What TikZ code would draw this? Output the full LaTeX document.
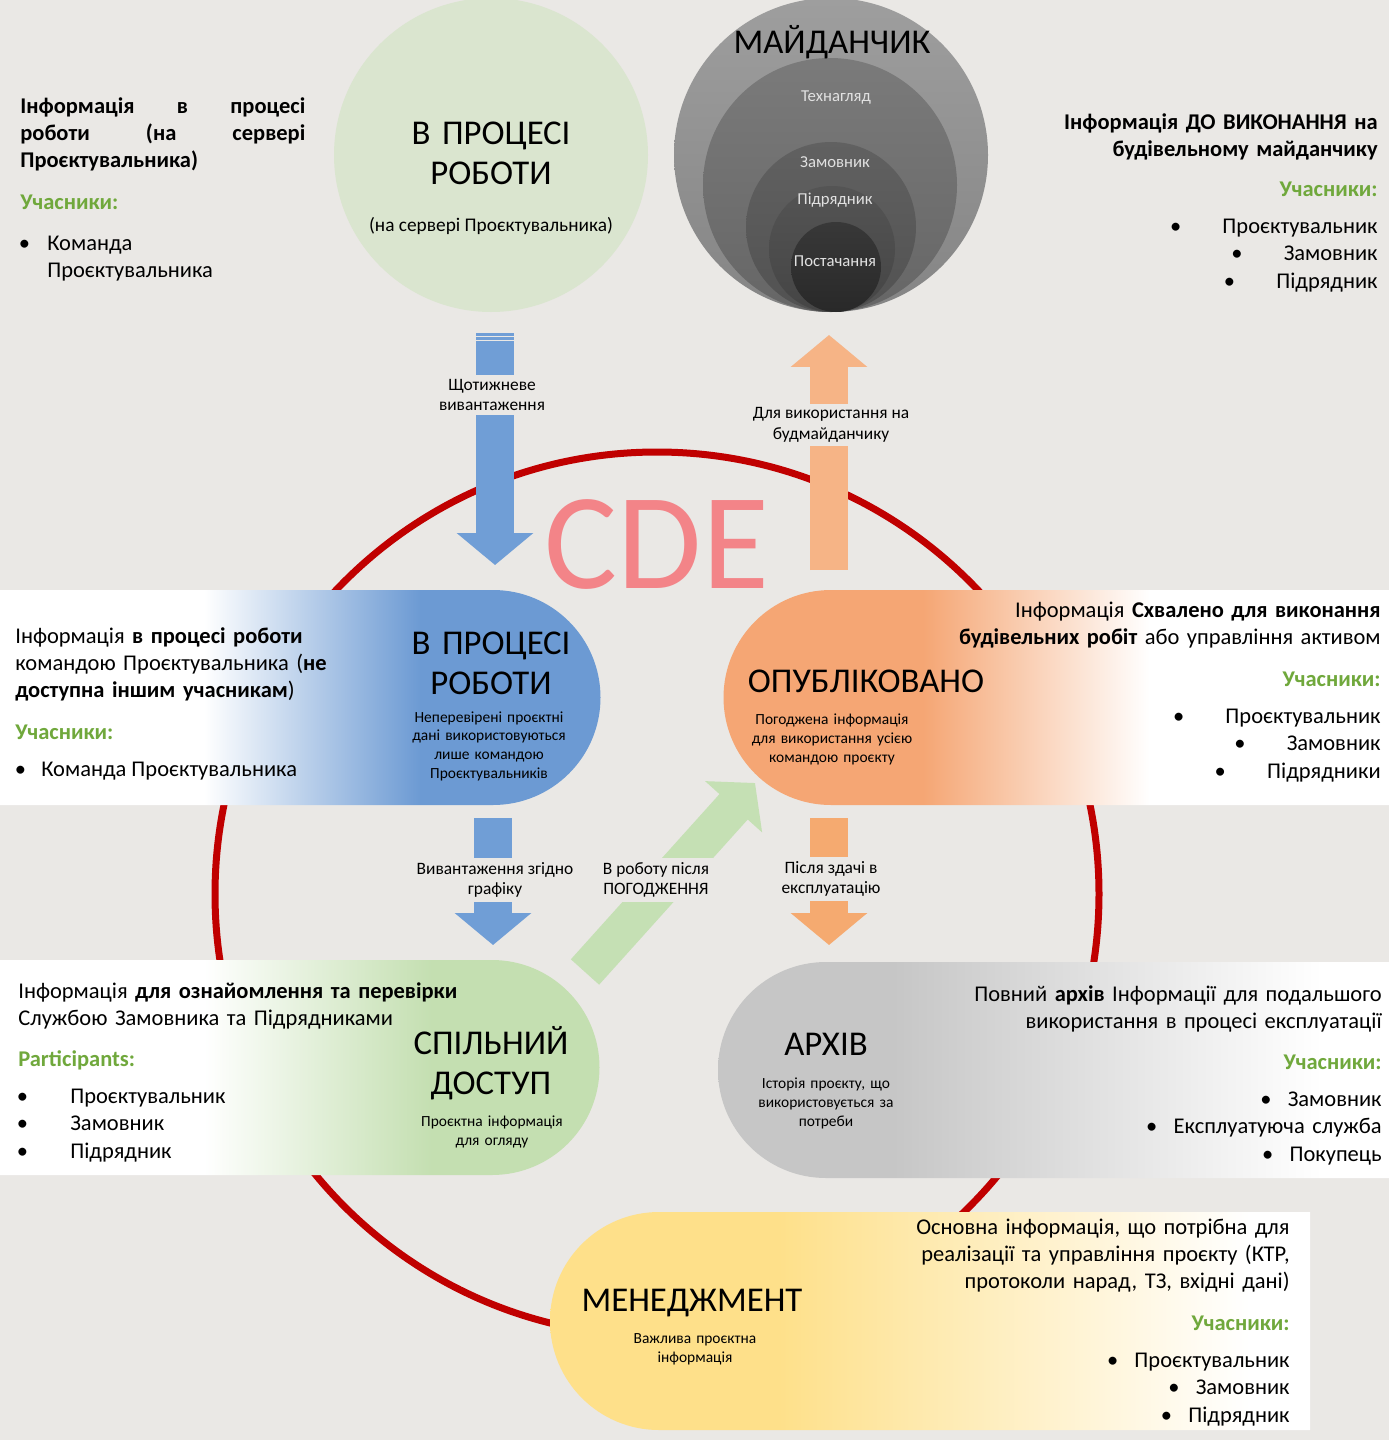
\documentclass[tikz,border=0pt]{standalone}
\usepackage{fontspec}
\setmainfont{Carlito}
\usetikzlibrary{arrows.meta}

\definecolor{bg}{RGB}{234,232,229}
\definecolor{wipblue}{RGB}{108,154,211}
\definecolor{pubor}{RGB}{245,166,116}
\definecolor{shgreen}{RGB}{196,223,177}
\definecolor{argrey}{RGB}{198,198,198}
\definecolor{mgyellow}{RGB}{254,224,138}
\definecolor{cdered}{RGB}{192,0,0}
\definecolor{cdepink}{RGB}{243,132,136}
\definecolor{partgreen}{RGB}{112,168,60}
\definecolor{sage}{RGB}{218,229,207}
\definecolor{arblue}{RGB}{112,158,214}
\definecolor{arorange}{RGB}{246,180,134}
\definecolor{arorangeb}{RGB}{245,170,112}
\definecolor{argreen}{RGB}{197,224,180}
\definecolor{sitetext}{RGB}{225,225,225}

\pgfdeclarehorizontalshading{wipshade}{100bp}{color(0bp)=(white); color(42bp)=(white); color(60bp)=(wipblue); color(100bp)=(wipblue)}
\pgfdeclarehorizontalshading{pubshade}{100bp}{color(0bp)=(pubor); color(40bp)=(pubor); color(57bp)=(white); color(100bp)=(white)}
\pgfdeclarehorizontalshading{shrshade}{100bp}{color(0bp)=(white); color(42bp)=(white); color(61bp)=(shgreen); color(100bp)=(shgreen)}
\pgfdeclarehorizontalshading{arcshade}{100bp}{color(0bp)=(argrey); color(38bp)=(argrey); color(70bp)=(white); color(100bp)=(white)}
\pgfdeclarehorizontalshading{mgmshade}{100bp}{color(0bp)=(mgyellow); color(40bp)=(mgyellow); color(71bp)=(white); color(100bp)=(white)}

\newcommand{\itembul}[2]{\makebox[#1][l]{\textbullet}#2}

\tikzset{
  bodytext/.style={font=\fontsize{12.8}{15.6}\selectfont, inner sep=0pt},
  infobold/.style={font=\fontsize{12.8}{15.6}\selectfont\bfseries, inner sep=0pt},
  parttext/.style={font=\fontsize{12.8}{15.6}\selectfont\bfseries, text=partgreen, inner sep=0pt},
  listtext/.style={font=\fontsize{12.8}{15.7}\selectfont, inner sep=0pt, text width=6cm},
  pilltitle/.style={font=\fontsize{19.8}{23.2}\selectfont, align=center, text width=6cm, inner sep=0pt},
  smalltext/.style={font=\fontsize{8.8}{10.8}\selectfont, align=center, text width=5cm, inner sep=0pt},
  sitelabel/.style={font=\fontsize{9.5}{11}\selectfont, text=sitetext, inner sep=0pt},
  arrowlabel/.style={font=\fontsize{9.9}{11.6}\selectfont, align=center, fill=bg, inner xsep=2pt, inner ysep=2.4pt},
  blockarrow/.style={line width=0.76cm, -{Triangle[width=1.5cm,length=0.64cm]}},
}

\begin{document}
\begin{tikzpicture}[x=0.02cm,y=-0.02cm]
  \fill[bg] (0,0) rectangle (1389,1440);
  \useasboundingbox (0,0) rectangle (1389,1440);

  % top: work in progress circle
  \fill[sage] (491,155) circle[radius=157];
  \node[pilltitle, anchor=base] (T) at (491,144) {В ПРОЦЕСІ\\РОБОТИ};
  \node[font=\fontsize{11}{13}\selectfont, inner sep=0pt, anchor=base] (Tsub) at (491,231) {(на сервері Проєктувальника)};

  % top: site circles
  \shade[top color=black!38, bottom color=black!48] (831,155) circle[radius=157];
  \shade[top color=black!52, bottom color=black!60] (830,185) circle[radius=127];
  \shade[top color=black!62, bottom color=black!68] (831,227) circle[radius=85];
  \shade[top color=black!67, bottom color=black!73] (832,249) circle[radius=63];
  \shade[top color=black!78, bottom color=black!84] (836,267) circle[radius=45];
  \node[pilltitle, anchor=base] (S) at (832,53) {МАЙДАНЧИК};
  \node[sitelabel, anchor=base] (S1) at (836,101) {Технагляд};
  \node[sitelabel, anchor=base] (S2) at (835,167) {Замовник};
  \node[sitelabel, anchor=base] (S3) at (835,204) {Підрядник};
  \node[sitelabel, anchor=base] (S4) at (835,266) {Постачання};

  % top texts
  \node[infobold, text width=5.7cm, align=left, anchor=base west] (tlinfo) at (20,113)
    {Інформація\hfill в\hfill процесі\\роботи\hfill (на\hfill сервері\\Проєктувальника)};
  \node[parttext, anchor=base west] (tlpart) at (20,209) {Учасники:};
  \node[listtext, align=left, anchor=base west] (tllist) at (18.5,250)
    {\itembul{0.57cm}{Команда}\\\hspace*{0.57cm}Проєктувальника};
  \node[infobold, text width=7cm, align=right, anchor=base east] (trinfo) at (1378,129)
    {Інформація ДО ВИКОНАННЯ на\\будівельному майданчику};
  \node[parttext, anchor=base east] (trpart) at (1378,196) {Учасники:};
  \node[listtext, align=right, anchor=base east] (trlist) at (1378,233)
    {\itembul{1.05cm}{Проєктувальник}\\\itembul{1.05cm}{Замовник}\\\itembul{1.05cm}{Підрядник}};

  % CDE ring
  \draw[cdered, line width=0.14cm] (657,894) circle[radius=442];
  \node[font=\fontsize{78}{80}\selectfont, text=cdepink, inner sep=0pt, anchor=base] (cde) at (657,588) {CDE};

  % work in progress
  \shade[shading=wipshade] (0,590) -- (493,590) arc[start angle=-90,end angle=90,radius=107.5] -- (0,805) -- cycle;
  \node[bodytext, text width=7.5cm, align=left, anchor=base west] (Ainfo) at (15,643)
    {Інформація \textbf{в процесі роботи}\\командою Проєктувальника (\textbf{не}\\\textbf{доступна іншим учасникам})};
  \node[parttext, anchor=base west] (Apart) at (15,739) {Учасники:};
  \node[bodytext, anchor=base west] (Alist) at (14.5,776) {\itembul{0.53cm}{Команда Проєктувальника}};
  \node[pilltitle, anchor=base] (A) at (491,654) {В ПРОЦЕСІ\\РОБОТИ};
  \node[smalltext, anchor=base] (Asub) at (489,722)
    {Неперевірені проєктні\\дані використовуються\\лише командою\\Проєктувальників};

  % published
  \shade[shading=pubshade] (1389,590) -- (831,590) arc[start angle=-90,end angle=-270,radius=107.5] -- (1389,805) -- cycle;
  \node[bodytext, text width=9cm, align=right, anchor=base east] (Binfo) at (1381,617)
    {Інформація \textbf{Схвалено для виконання}\\\textbf{будівельних робіт} або управління активом};
  \node[parttext, anchor=base east] (Bpart) at (1381,686) {Учасники:};
  \node[listtext, align=right, anchor=base east] (Blist) at (1381,723)
    {\itembul{1.05cm}{Проєктувальник}\\\itembul{1.05cm}{Замовник}\\\itembul{1.05cm}{Підрядники}};
  \node[pilltitle, anchor=base] (B) at (866,692) {ОПУБЛІКОВАНО};
  \node[smalltext, anchor=base] (Bsub) at (832,724.5)
    {Погоджена інформація\\для використання усією\\командою проєкту};

  % shared
  \shade[shading=shrshade] (0,960) -- (492,960) arc[start angle=-90,end angle=90,radius=107.5] -- (0,1175) -- cycle;
  \node[bodytext, text width=9cm, align=left, anchor=base west] (Cinfo) at (18,998)
    {Інформація \textbf{для ознайомлення та перевірки}\\Службою Замовника та Підрядниками};
  \node[parttext, anchor=base west] (Cpart) at (18,1066) {Participants:};
  \node[listtext, align=left, anchor=base west] (Clist) at (16.5,1103)
    {\itembul{1.07cm}{Проєктувальник}\\\itembul{1.07cm}{Замовник}\\\itembul{1.07cm}{Підрядник}};
  \node[pilltitle, anchor=base] (C) at (491,1054) {СПІЛЬНИЙ\\ДОСТУП};
  \node[smalltext, anchor=base] (Csub) at (492,1126.5) {Проєктна інформація\\для огляду};

  % archive
  \shade[shading=arcshade] (1389,962) -- (826,962) arc[start angle=-90,end angle=-270,radius=108] -- (1389,1178) -- cycle;
  \node[bodytext, text width=9cm, align=right, anchor=base east] (Dinfo) at (1382,1001)
    {Повний \textbf{архів} Інформації для подальшого\\використання в процесі експлуатації};
  \node[parttext, anchor=base east] (Dpart) at (1382,1069) {Учасники:};
  \node[listtext, align=right, anchor=base east] (Dlist) at (1382,1106)
    {\itembul{0.55cm}{Замовник}\\\itembul{0.55cm}{Експлуатуюча служба}\\\itembul{0.55cm}{Покупець}};
  \node[pilltitle, anchor=base] (D) at (826,1055) {АРХІВ};
  \node[smalltext, anchor=base] (Dsub) at (826,1088.5)
    {Історія проєкту, що\\використовується за\\потреби};

  % management
  \shade[shading=mgmshade] (1310,1212) -- (659,1212) arc[start angle=-90,end angle=-270,radius=109] -- (1310,1430) -- cycle;
  \node[bodytext, text width=9cm, align=right, anchor=base east] (Einfo) at (1290,1234)
    {Основна інформація, що потрібна для\\реалізації та управління проєкту (КТР,\\протоколи нарад, ТЗ, вхідні дані)};
  \node[parttext, anchor=base east] (Epart) at (1290,1330) {Учасники:};
  \node[listtext, align=right, anchor=base east] (Elist) at (1290,1367)
    {\itembul{0.55cm}{Проєктувальник}\\\itembul{0.55cm}{Замовник}\\\itembul{0.55cm}{Підрядник}};
  \node[pilltitle, anchor=base] (E) at (692,1311) {МЕНЕДЖМЕНТ};
  \node[smalltext, anchor=base] (Esub) at (695,1343.5) {Важлива проєктна\\інформація};

  % arrows
  \coordinate (t1) at (495,333);
  \coordinate (h1) at (495,565);
  \coordinate (t2) at (829,570);
  \coordinate (h2) at (829,335);
  \coordinate (t3) at (493,818);
  \coordinate (h3) at (493,945);
  \coordinate (t4) at (829,818);
  \coordinate (h4) at (829,945);
  \coordinate (t5) at (585,972);
  \coordinate (h5) at (755,783);
  \draw[blockarrow, arblue] (t1) -- (h1);
  \draw[bg, line width=0.035cm] (470,336.5) -- (520,336.5);
  \draw[bg, line width=0.035cm] (470,340.5) -- (520,340.5);
  \draw[blockarrow, arorange] (t2) -- (h2);
  \draw[blockarrow, arblue] (t3) -- (h3);
  \draw[blockarrow, arorangeb] (t4) -- (h4);
  \draw[blockarrow, argreen] (t5) -- (h5);
  \node[arrowlabel] (l1) at (492,395) {Щотижневе\\вивантаження};
  \node[arrowlabel] (l2) at (831,425) {Для використання на\\будмайданчику};
  \node[arrowlabel] (l3) at (495,880) {Вивантаження згідно\\графіку};
  \node[arrowlabel] (l4) at (831,879) {Після здачі в\\експлуатацію};
  \node[arrowlabel] (l5) at (656,880) {В роботу після\\ПОГОДЖЕННЯ};
\end{tikzpicture}
\end{document}
